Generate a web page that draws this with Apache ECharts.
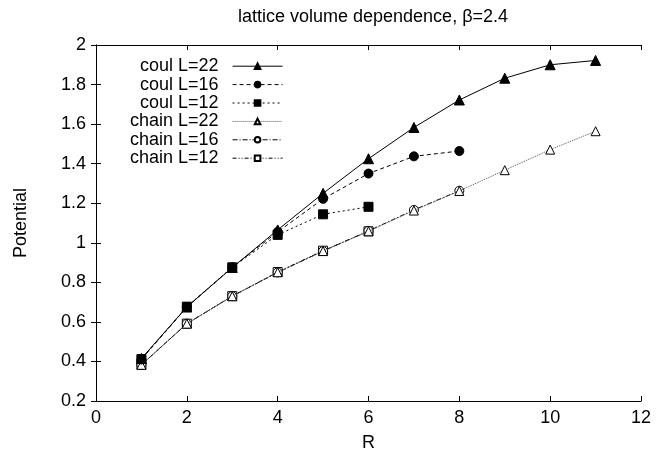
<!DOCTYPE html>
<html>
<head>
<meta charset="utf-8">
<script src="https://cdn.jsdelivr.net/npm/echarts@6/dist/echarts.min.js"></script>
<style>html,body{margin:0;padding:0;background:#fff;}#c{width:670px;height:457px;}</style>
</head>
<body>
<div id="c"></div>
<script>
const titleText = 'lattice volume dependence, \u03B2=2.4';
const xName = 'R';
const yName = 'Potential';
const R11 = [1,2,3,4,5,6,7,8,9,10,11];
const coul22 = [0.415, 0.675, 0.875, 1.065, 1.25, 1.425, 1.583, 1.722, 1.832, 1.90, 1.922];
const coul16 = [0.41, 0.675, 0.875, 1.055, 1.222, 1.35, 1.437, 1.464];
const coul12 = [0.412, 0.677, 0.876, 1.04, 1.144, 1.182];
const chain22 = [0.383, 0.591, 0.73, 0.851, 0.958, 1.058, 1.163, 1.262, 1.367, 1.471, 1.564];
const chain16 = [0.383, 0.591, 0.73, 0.850, 0.958, 1.06, 1.166, 1.263];
const chain12 = [0.383, 0.591, 0.73, 0.852, 0.96, 1.058];
const names = ['coul L=22','coul L=16','coul L=12','chain L=22','chain L=16','chain L=12'];

function pts(vals){ return vals.map((v,i)=>[R11[i], v]); }

const font = 'Liberation Sans, Arial, Helvetica, sans-serif';
const FS = 18;
const styles = [
  {symbol:'triangle', size:10, fill:'#000', line:{type:'solid', color:'#000'}},
  {symbol:'circle', size:9, fill:'#000', line:{type:[4,3], color:'#000'}},
  {symbol:'rect', size:9, fill:'#000', line:{type:[2,3], color:'#000'}},
  {symbol:'triangle', size:9, fill:'#fff', line:{type:[1,1], color:'#555'}},
  {symbol:'circle', size:9, fill:'#fff', line:{type:[5,2,1,2], color:'#000'}},
  {symbol:'rect', size:9, fill:'#fff', line:{type:[4,2,1,2,1,2], color:'#000'}}
];
const datas = [coul22, coul16, coul12, chain22, chain16, chain12];

const series = datas.map((d,i)=>({
  name: names[i],
  type: 'line',
  data: pts(d),
  symbol: styles[i].symbol,
  symbolSize: styles[i].size,
  z: 10 - i,
  itemStyle: {color: styles[i].fill, borderColor: '#000', borderWidth: 1},
  lineStyle: {color: styles[i].line.color, width: 1, type: styles[i].line.type},
  animation: false
}));

const chart = echarts.init(document.getElementById('c'), null, {renderer:'canvas'});
chart.setOption({
  backgroundColor: '#fff',
  animation: false,
  title: {text: titleText, left: 368, top: 3, textAlign: 'center',
    textStyle: {fontFamily: font, fontSize: FS, fontWeight: 'normal', color: '#000'}},
  legend: {
    data: names, orient: 'vertical', left: 130, top: 57, padding: 0,
    align: 'right', itemWidth: 50, itemHeight: 7, itemGap: 0,
    lineStyle: {width: 1},
    textStyle: {fontFamily: font, fontSize: FS, color: '#000', lineHeight: 18.4, padding: [0, 9, 0, 0]},
    inactiveColor: '#000'
  },
  grid: {left: 96, right: 29, top: 45, bottom: 54},
  xAxis: [{
    type: 'value', min: 0, max: 12, interval: 2,
    name: xName, nameLocation: 'middle', nameGap: 33,
    nameTextStyle: {fontFamily: font, fontSize: FS, color: '#000'},
    axisLine: {show: true, lineStyle: {color: '#000', width: 1}},
    axisTick: {show: true, inside: true, length: 5, lineStyle: {color: '#000'}},
    axisLabel: {fontFamily: font, fontSize: FS, color: '#000', margin: 8},
    splitLine: {show: false}
  }, {
    type: 'value', min: 0, max: 12, interval: 2, position: 'top',
    axisLine: {show: true, lineStyle: {color: '#000', width: 1}},
    axisTick: {show: true, inside: true, length: 5, lineStyle: {color: '#000'}},
    axisLabel: {show: false}, splitLine: {show: false}
  }],
  yAxis: [{
    type: 'value', min: 0.2, max: 2, interval: 0.2,
    name: yName, nameLocation: 'middle', nameGap: 66, nameRotate: 90,
    nameTextStyle: {fontFamily: font, fontSize: FS, color: '#000'},
    axisLine: {show: true, lineStyle: {color: '#000', width: 1}},
    axisTick: {show: true, inside: true, length: 5, lineStyle: {color: '#000'}},
    axisLabel: {fontFamily: font, fontSize: FS, color: '#000', margin: 10,
      formatter: v => String(Math.round(v*10)/10)},
    splitLine: {show: false}
  }, {
    type: 'value', min: 0.2, max: 2, interval: 0.2, position: 'right',
    axisLine: {show: true, lineStyle: {color: '#000', width: 1}},
    axisTick: {show: true, inside: true, length: 5, lineStyle: {color: '#000'}},
    axisLabel: {show: false}, splitLine: {show: false}
  }],
  series: series
});
</script>
</body>
</html>
